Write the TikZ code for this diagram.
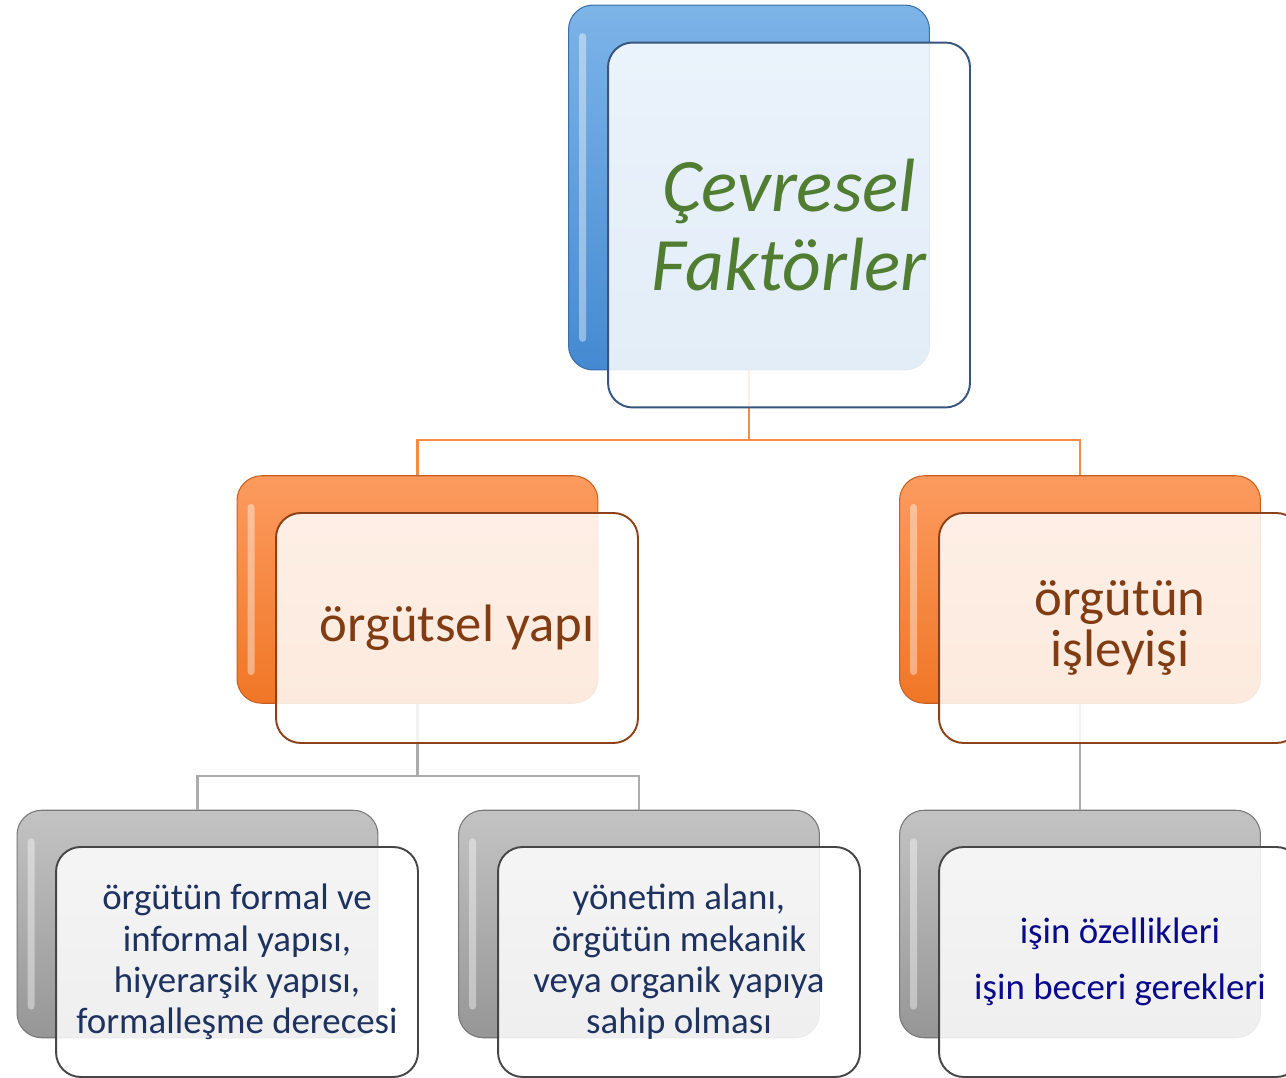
\documentclass[tikz,border=0pt]{standalone}
\usepackage{fontspec}
\setmainfont{Carlito}
\definecolor{blueTop}{RGB}{125,180,232}
\definecolor{blueBot}{RGB}{68,138,210}
\definecolor{blueEdge}{RGB}{60,110,170}
\definecolor{orTop}{RGB}{252,155,95}
\definecolor{orBot}{RGB}{240,118,38}
\definecolor{orEdge}{RGB}{200,95,30}
\definecolor{grTop}{RGB}{195,195,195}
\definecolor{grBot}{RGB}{150,150,150}
\definecolor{grEdge}{RGB}{120,120,120}
\definecolor{frameBlue}{RGB}{55,85,125}
\definecolor{frameBrown}{RGB}{140,65,25}
\definecolor{frameGray}{RGB}{70,70,70}
\definecolor{lineOrange}{RGB}{247,140,70}
\definecolor{lineGray}{RGB}{172,172,172}
\definecolor{txtGreen}{RGB}{80,125,50}
\definecolor{txtBrown}{RGB}{130,60,20}
\definecolor{txtNavy}{RGB}{30,50,95}
\definecolor{txtBlue}{RGB}{10,10,140}
\begin{document}
\begin{tikzpicture}
  [x=0.02cm,y=-0.02cm,every node/.style={rounded corners=14pt,inner sep=0pt}]
  \tikzstyle{back} = [minimum width=7.22cm,minimum height=4.55cm,line width=.6pt,
    path picture={\fill[white,opacity=.4,rounded corners=2pt]
      ([xshift=6pt,yshift=-16pt]path picture bounding box.north west) rectangle
      ([xshift=10pt,yshift=16pt]path picture bounding box.south west);}]
  \tikzstyle{front} = [minimum width=7.24cm,minimum height=4.6cm,fill=white,
    fill opacity=.85,text opacity=1,line width=1.1pt,align=center]
  \tikzstyle{tall} = [minimum height=7.3cm]
  \useasboundingbox (0,0) rectangle (1286,1078);

  % back boxes
  \node[back,tall,top color=blueTop,bottom color=blueBot,draw=blueEdge] (cfB) at (749,187.5) {};
  \node[back,top color=orTop,bottom color=orBot,draw=orEdge] (oyB) at (417.5,589.5) {};
  \node[back,top color=orTop,bottom color=orBot,draw=orEdge] (oiB) at (1080,589.5) {};
  \node[back,top color=grTop,bottom color=grBot,draw=grEdge] (fyB) at (197.5,924) {};
  \node[back,top color=grTop,bottom color=grBot,draw=grEdge] (ymB) at (639,924) {};
  \node[back,top color=grTop,bottom color=grBot,draw=grEdge] (ibB) at (1080,924) {};

  \coordinate (bar1) at (0,440);
  \coordinate (bar2) at (0,776);
  \foreach \source/\dest/\bar/\col in {cfB/oyB/bar1/lineOrange,cfB/oiB/bar1/lineOrange,
      oyB/fyB/bar2/lineGray,oyB/ymB/bar2/lineGray,oiB/ibB/bar2/lineGray}
    \draw[\col,line width=1.6pt] (\source.south) -- (\source.south |- \bar) -| (\dest.north);

  % front boxes
  \node[front,tall,draw=frameBlue,text=txtGreen,font=\itshape\fontsize{43}{45}\selectfont] (cf) at (789,225) {Çevresel\\Faktörler};
  \node[front,draw=frameBrown,text=txtBrown,font=\fontsize{30}{29}\selectfont] (oy) at (457,628) {örgütsel yapı};
  \node[front,draw=frameBrown,text=txtBrown,font=\fontsize{30}{29}\selectfont] (oi) at (1120,628) {örgütün\\işleyişi};
  \node[front,draw=frameGray,text=txtNavy,font=\fontsize{21}{23.5}\selectfont] (fy) at (237,962)
    {örgütün formal ve\\informal yapısı,\\hiyerarşik yapısı,\\formalleşme derecesi};
  \node[front,draw=frameGray,text=txtNavy,font=\fontsize{21}{23.5}\selectfont] (ym) at (679,962)
    {yönetim alanı,\\örgütün mekanik\\veya organik yapıya\\sahip olması};
  \node[front,draw=frameGray,text=txtBlue,font=\fontsize{21}{23.5}\selectfont] (ib) at (1120,962)
    {işin özellikleri\\[8pt]işin beceri gerekleri};
\end{tikzpicture}
\end{document}
